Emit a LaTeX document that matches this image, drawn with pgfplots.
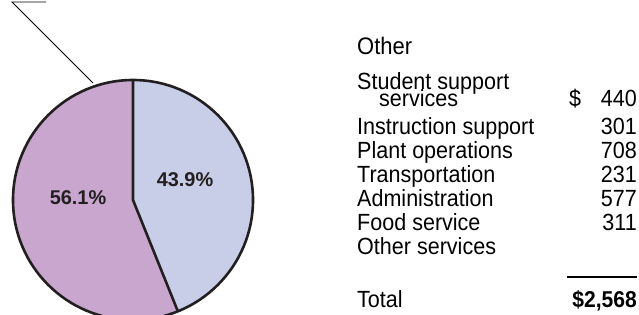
\documentclass[border=0pt]{standalone}
\usepackage{fontspec}
\setmainfont{Liberation Sans}
\newfontfamily\tabfont{Liberation Sans}[FakeStretch=0.92]
\usepackage{pgfplots}
\usetikzlibrary{calc}
\pgfplotsset{compat=1.18}
\definecolor{slicepurple}{HTML}{C9A6CE}
\definecolor{sliceblue}{HTML}{C9CEE8}
\definecolor{outline}{HTML}{231F20}
\begin{document}
\begin{tikzpicture}
\def\pa{43.9}\def\pb{56.1}
\pgfmathsetmacro\angA{90-3.6*\pa}
\pgfmathsetmacro\angB{\angA-3.6*\pb}
\begin{axis}[at={(0,0)},anchor=south west,width=639bp,height=315bp,scale only axis,
  xmin=0,xmax=639,ymin=-315,ymax=0,hide axis,clip=true]
% pie slices
\fill[sliceblue] (axis cs:133,-200) -- (axis cs:133,-80) arc[start angle=90,end angle=\angA,radius=120bp] -- cycle;
\fill[slicepurple] (axis cs:133,-200) -- ($(axis cs:133,-200)+(\angA:120bp)$) arc[start angle=\angA,end angle=\angB,radius=120bp] -- cycle;
\draw[outline,line width=2.6bp] (axis cs:133,-200) circle[radius=120bp];
\draw[outline,line width=2.6bp] (axis cs:133,-80) -- (axis cs:133,-200) -- ++(\angA:120bp);
\node[font=\bfseries\fontsize{20}{20}\selectfont,text=outline] at (axis cs:185,-180) {\pa\%};
\node[font=\bfseries\fontsize{20}{20}\selectfont,text=outline] at (axis cs:78,-198) {\pb\%};
% leader line
\draw[black,line width=0.8bp] (axis cs:93,-83) -- (axis cs:12,-2) -- (axis cs:46,-2);
% table
\begin{scope}[every node/.style={anchor=base west,inner sep=0pt,text=black,font=\tabfont\fontsize{23.5}{24}\selectfont}]
\node[font=\tabfont\fontsize{24}{24}\selectfont] at (axis cs:357,-55) {Other};
\node at (axis cs:357,-90) {Student support};
\node at (axis cs:379,-107) {services};
\node at (axis cs:357,-135) {Instruction support};
\node at (axis cs:357,-159) {Plant operations};
\node at (axis cs:357,-183) {Transportation};
\node at (axis cs:357,-207) {Administration};
\node at (axis cs:357,-231) {Food service};
\node at (axis cs:357,-255) {Other services};
\node at (axis cs:357,-307) {Total};
\node at (axis cs:569,-107) {\$};
\end{scope}
\begin{scope}[every node/.style={anchor=base east,inner sep=0pt,text=black,font=\tabfont\fontsize{23.5}{24}\selectfont}]
\node at (axis cs:637,-107) {440};
\node at (axis cs:637,-135) {301};
\node at (axis cs:637,-159) {708};
\node at (axis cs:637,-183) {231};
\node at (axis cs:637,-207) {577};
\node at (axis cs:637,-231) {311};
\node[font=\tabfont\bfseries\fontsize{23}{24}\selectfont] at (axis cs:637,-307) {\$2,568};
\end{scope}
\draw[black,line width=2bp] (axis cs:567,-277) -- (axis cs:637,-277);
\end{axis}
\pgfresetboundingbox
\path (0,0) rectangle (639bp,315bp);
\end{tikzpicture}
\end{document}
